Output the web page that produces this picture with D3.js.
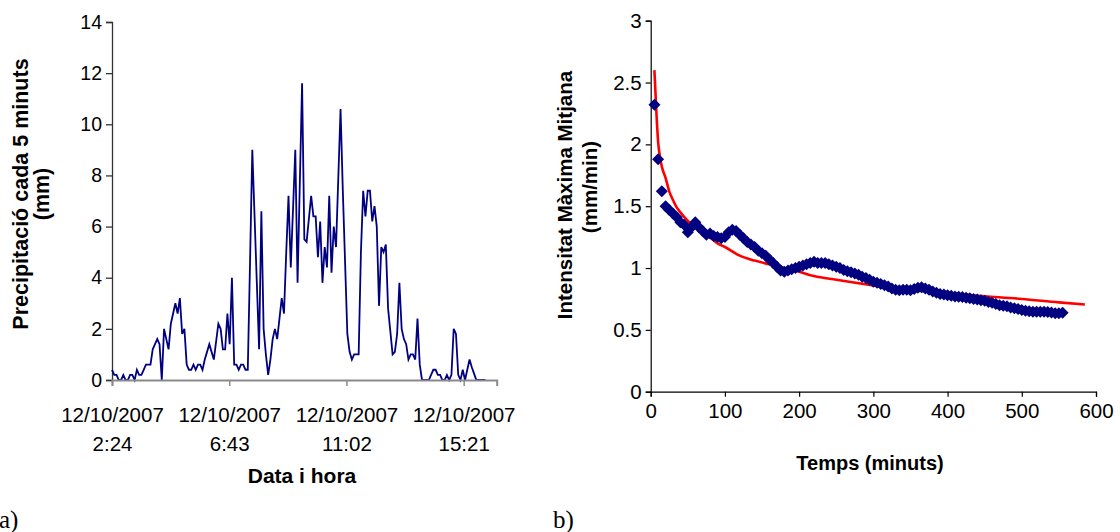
<!DOCTYPE html>
<html><head><meta charset="utf-8">
<script src="https://cdn.jsdelivr.net/npm/d3@7"></script>
<style>
html,body{margin:0;padding:0;background:#fff;}
svg{display:block;font-family:"Liberation Sans",Arial,sans-serif;}
</style></head><body>
<svg id="c" width="1120" height="532"></svg>
<script>
// ---------- Data: chart a) precipitation every 5 minutes (mm) ----------
const rainStartLabel = "12/10/2007 2:24";
const rainStepMinutes = 5;
const rainValues = [
 0.4,0.2,0.2,0,0,0.2,0,0,0.2,0.2,
 0,0.4,0.2,0.2,0.4,0.6,0.6,0.6,1.2,1.4,
 1.6,1.4,0,2.0,1.6,1.2,2.2,2.6,3.0,2.6,
 3.2,1.8,2.0,0.6,0.4,0.4,0.6,0.4,0.6,0.6,
 0.4,0.8,1.1,1.4,1.1,0.8,1.5,2.2,2.0,1.2,
 1.2,2.6,1.4,4.0,0.6,0.6,0.4,0.6,0.6,0.4,
 0.4,4.6,9.0,6.4,3.8,1.2,6.6,2.0,1.0,0.2,
 0.8,1.6,2.0,1.6,2.4,3.2,2.6,5.0,7.2,4.4,
 6.7,9.0,3.8,7.7,11.6,5.5,5.4,6.3,7.2,6.4,
 6.4,4.8,6.2,3.8,5.2,4.4,7.2,4.2,6.0,5.2,
 7.9,10.6,7.4,4.6,1.8,1.1,0.8,1.0,1.0,1.0,
 5.0,7.4,6.4,7.4,7.4,6.2,6.8,6.0,2.9,5.2,
 5.0,5.3,2.8,1.9,1.0,1.1,1.8,3.8,2.0,1.6,
 1.4,0.8,1.0,1.0,0.8,2.4,0.6,0,0,0,
 0,0.2,0.4,0.4,0.2,0.2,0,0,0.2,0,
 0.2,2.0,1.8,0.2,0,0.4,0,0.4,0.8,0.5,
 0.25,0,0,0,0,0
];
const rainTickLabels = ["2:24","6:43","11:02","15:21"];
const rainTickDate = "12/10/2007";
const rainYTicks = [0,2,4,6,8,10,12,14];

// ---------- Data: chart b) maximum mean intensity vs duration ----------
const durObs = [];
for (let m = 5; m <= 555; m += 5) durObs.push(m);
const intObs = [
 2.32,1.88,1.62,1.50,1.47,1.44,1.41,1.37,1.35,1.29,
 1.33,1.37,1.33,1.30,1.27,1.28,1.26,1.25,1.24,1.25,
 1.29,1.31,1.30,1.27,1.24,1.21,1.19,1.17,1.14,1.12,
 1.10,1.07,1.04,1.01,0.98,0.97,0.98,0.99,1.00,1.01,
 1.02,1.03,1.04,1.05,1.04,1.04,1.04,1.03,1.02,1.01,
 1.00,0.985,0.975,0.965,0.955,0.945,0.93,0.92,0.905,0.89,
 0.88,0.87,0.86,0.85,0.835,0.825,0.82,0.825,0.825,0.82,
 0.83,0.84,0.845,0.835,0.825,0.81,0.80,0.79,0.785,0.78,
 0.775,0.77,0.768,0.765,0.76,0.755,0.75,0.745,0.74,0.735,
 0.725,0.72,0.71,0.70,0.695,0.69,0.68,0.675,0.668,0.66,
 0.655,0.65,0.647,0.647,0.647,0.647,0.645,0.64,0.635,0.635,
 0.638
];
const durFit = [5,8,10,13,15,20,25,30,35,40,50,60,75,90,100,120,140,160,180,200,220,250,300,350,400,450,500,550,585];
const intFit = [2.60,2.22,2.02,1.88,1.82,1.73,1.62,1.55,1.49,1.45,1.38,1.33,1.27,1.20,1.17,1.10,1.06,1.03,1.00,0.97,0.935,0.905,0.86,0.822,0.795,0.772,0.75,0.722,0.705];
const bXTicks = [0,100,200,300,400,500,600];
const bYTicks = [0,0.5,1,1.5,2,2.5,3];

// ---------- Drawing ----------
const svg = d3.select("#c");
const parseT = d3.timeParse("%d/%m/%Y %H:%M");
const t0 = parseT(rainStartLabel);
const rainData = rainValues.map((v,i)=>({t:new Date(+t0 + i*rainStepMinutes*60000), v}));
const tEnd = new Date(+t0 + 850*60000);

const xa = d3.scaleTime().domain([t0, tEnd]).range([112, 496.7]);
const ya = d3.scaleLinear().domain([0,14]).range([380, 22]);

// left y axis
const gYa = svg.append("g").attr("transform","translate(112,0)")
  .call(d3.axisLeft(ya).tickValues(rainYTicks).tickSize(6).tickPadding(4).tickFormat(d3.format("d")));
gYa.select(".domain").attr("stroke","#333").attr("stroke-width",1.3);
gYa.selectAll(".tick line").attr("stroke","#333").attr("stroke-width",1.3);
gYa.selectAll(".tick text").attr("font-size","19.5px").attr("fill","#000")
  .attr("font-family","Liberation Sans, Arial, sans-serif");

// line
svg.append("path").datum(rainData)
  .attr("fill","none").attr("stroke","#000080").attr("stroke-width",1.8)
  .attr("stroke-linejoin","miter")
  .attr("d", d3.line().x(d=>xa(d.t)).y(d=>ya(d.v)));

// left x axis
const tickDates = rainTickLabels.map(s=>parseT(rainTickDate+" "+s));
const gXa = svg.append("g").attr("transform","translate(0,380)")
  .call(d3.axisBottom(xa).tickValues(tickDates).tickSize(6).tickFormat(""));
gXa.select(".domain").attr("stroke","#8a8a8a").attr("stroke-width",2);
gXa.selectAll(".tick line").attr("stroke","#8a8a8a").attr("stroke-width",1.5);
gXa.selectAll(".tick").each(function(d,i){
  const g = d3.select(this);
  g.append("text").attr("y",42).attr("text-anchor","middle").attr("fill","#000")
    .attr("font-size","20.5px").text(rainTickDate);
  g.append("text").attr("y",71).attr("text-anchor","middle").attr("fill","#000")
    .attr("font-size","20.5px").text(rainTickLabels[i]);
});
svg.append("text").attr("x",302).attr("y",483).attr("text-anchor","middle")
  .attr("font-weight","bold").attr("font-size","21px").text("Data i hora");
svg.append("text").attr("transform","translate(28,194) rotate(-90)").attr("text-anchor","middle")
  .attr("font-weight","bold").attr("font-size","21.5px").text("Precipitació cada 5 minuts");
svg.append("text").attr("transform","translate(49,194) rotate(-90)").attr("text-anchor","middle")
  .attr("font-weight","bold").attr("font-size","21.5px").text("(mm)");

// ---------- chart b ----------
const xb = d3.scaleLinear().domain([0,600]).range([650.7,1096]);
const yb = d3.scaleLinear().domain([0,3]).range([391.7,20.7]);

const gYb = svg.append("g").attr("transform","translate(650.7,0)")
  .call(d3.axisLeft(yb).tickValues(bYTicks).tickSize(5).tickPadding(4).tickFormat(d=>String(d)));
const gXb = svg.append("g").attr("transform","translate(0,391.7)")
  .call(d3.axisBottom(xb).tickValues(bXTicks).tickSize(5).tickPadding(7).tickFormat(d3.format("d")));
[gYb,gXb].forEach(g=>{
  g.select(".domain").attr("stroke","#000").attr("stroke-width",1.2);
  g.selectAll(".tick line").attr("stroke","#000").attr("stroke-width",1.2);
  g.selectAll(".tick text").attr("font-size","20.5px").attr("fill","#000")
    .attr("font-family","Liberation Sans, Arial, sans-serif");
});

// fitted curve
svg.append("path").datum(durFit.map((d,i)=>[d,intFit[i]]))
  .attr("fill","none").attr("stroke","#ff0000").attr("stroke-width",2.6)
  .attr("d", d3.line().curve(d3.curveMonotoneX).x(d=>xb(d[0])).y(d=>yb(d[1])));

// observed diamonds
const diamond = "M0,-6L6,0L0,6L-6,0Z";
svg.append("g").selectAll("path").data(durObs.map((d,i)=>[d,intObs[i]])).join("path")
  .attr("d",diamond).attr("fill","#000080")
  .attr("transform",d=>`translate(${xb(d[0])},${yb(d[1])})`);

svg.append("text").attr("x",870).attr("y",470).attr("text-anchor","middle")
  .attr("font-weight","bold").attr("font-size","20px").text("Temps (minuts)");
svg.append("text").attr("transform","translate(572,195) rotate(-90)").attr("text-anchor","middle")
  .attr("font-weight","bold").attr("font-size","20.5px").text("Intensitat Màxima Mitjana");
svg.append("text").attr("transform","translate(597,187) rotate(-90)").attr("text-anchor","middle")
  .attr("font-weight","bold").attr("font-size","20.5px").text("(mm/min)");

// panel labels
svg.append("text").attr("x",-1).attr("y",528).attr("font-family","Liberation Serif, Times New Roman, serif")
  .attr("font-size","25px").text("a)");
svg.append("text").attr("x",553).attr("y",528).attr("font-family","Liberation Serif, Times New Roman, serif")
  .attr("font-size","25px").text("b)");
</script>
</body></html>
